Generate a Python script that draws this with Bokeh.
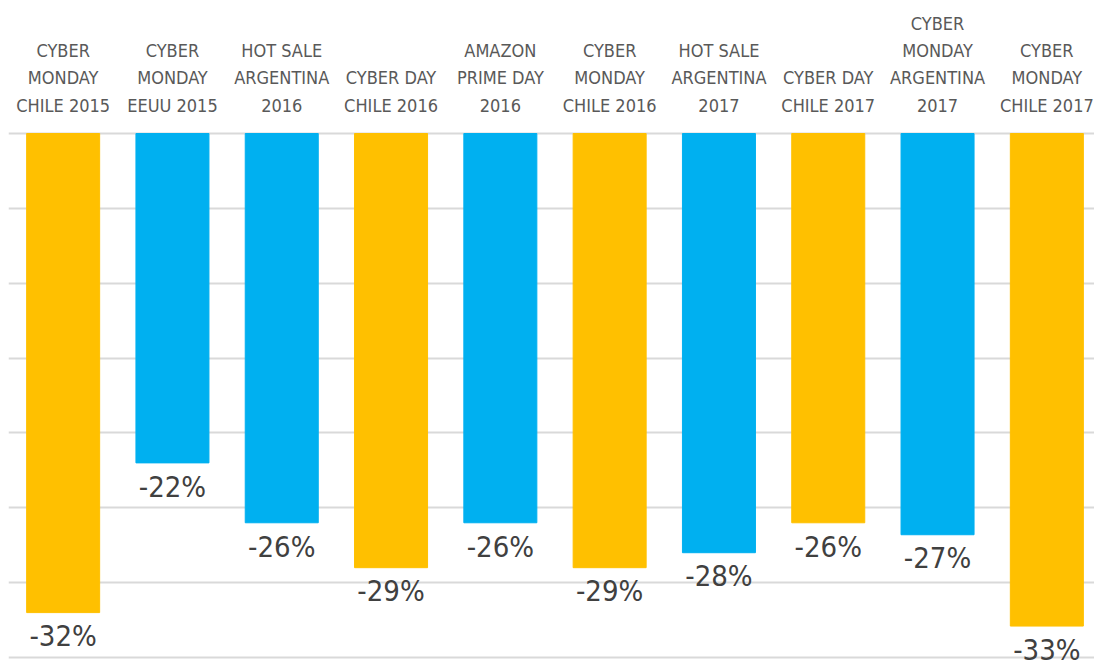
import numpy as np
from bokeh.plotting import figure
from bokeh.models import Range1d, FixedTicker, ColumnDataSource
from bokeh.core.properties import value
from bokeh.embed import file_html
from bokeh.resources import INLINE

categories = [
    "CYBER\nMONDAY\nCHILE 2015",
    "CYBER\nMONDAY\nEEUU 2015",
    "HOT SALE\nARGENTINA\n2016",
    "CYBER DAY\nCHILE 2016",
    "AMAZON\nPRIME DAY\n2016",
    "CYBER\nMONDAY\nCHILE 2016",
    "HOT SALE\nARGENTINA\n2017",
    "CYBER DAY\nCHILE 2017",
    "CYBER\nMONDAY\nARGENTINA\n2017",
    "CYBER\nMONDAY\nCHILE 2017",
]
values = [-32.0, -22.0, -26.0, -29.0, -26.0, -29.0, -28.0, -26.0, -26.8, -32.9]
value_labels = ["-32%", "-22%", "-26%", "-29%", "-26%", "-29%", "-28%", "-26%", "-27%", "-33%"]
colors = ["#FFC000", "#00B0F0", "#00B0F0", "#FFC000", "#00B0F0",
          "#FFC000", "#00B0F0", "#FFC000", "#00B0F0", "#FFC000"]
grid_ticks = [0, -5, -10, -15, -20, -25, -30, -35]

n = len(categories)
xs = np.arange(n)

src = ColumnDataSource(dict(
    x=xs, top=[0] * n, bottom=values, color=colors,
    cat=categories, lab=value_labels,
    laby=[v - 0.45 for v in values],
    caty=[1.2] * n,
))

p = figure(width=1094, height=666, output_backend="svg", toolbar_location=None,
           x_range=Range1d(-0.5, 9.436), y_range=Range1d(-35.6, 8.884),
           min_border_left=8, min_border_right=0, min_border_top=0, min_border_bottom=0)
p.outline_line_color = None
p.xaxis.visible = False
p.yaxis.visible = False
p.xgrid.visible = False
p.ygrid.ticker = FixedTicker(ticks=grid_ticks)
p.ygrid.grid_line_color = "#d9d9d9"
p.ygrid.grid_line_width = 2

p.vbar(x="x", top="top", bottom="bottom", width=0.668, color="color", source=src)

p.text(x="x", y="caty", text="cat", source=src, text_align="center",
       text_baseline="bottom", text_font=value("DejaVu Sans Condensed"),
       text_font_size="18px", text_color="#595959", text_line_height=1.3)

p.text(x="x", y="laby", text="lab", source=src, text_align="center",
       text_baseline="top", text_font=value("DejaVu Sans Condensed"),
       text_font_size="29px", text_color="#404040")

open("out.html", "w").write(file_html(p, INLINE))
